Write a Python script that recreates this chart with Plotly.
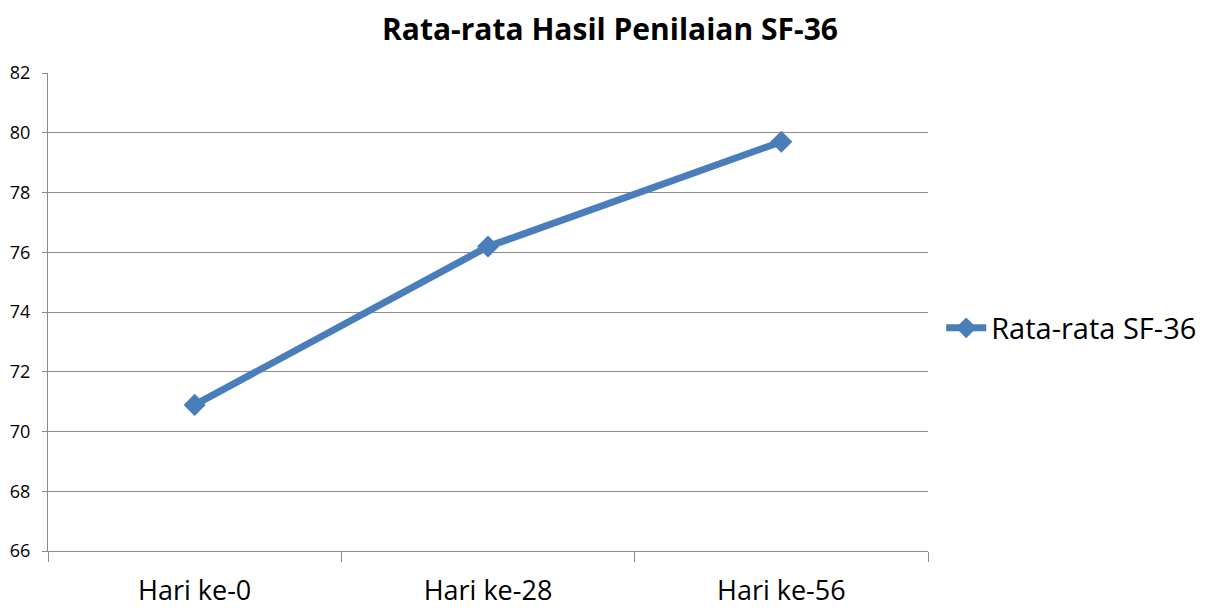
import plotly.graph_objects as go

categories = ["Hari ke-0", "Hari ke-28", "Hari ke-56"]
values = [70.89, 76.19, 79.70]
series_name = "Rata-rata SF-36"
title_text = "Rata-rata Hasil Penilaian SF-36"

fig = go.Figure()
fig.add_trace(go.Scatter(
    x=categories, y=values, mode="lines+markers", name=series_name,
    line=dict(color="#4A7EBB", width=7),
    marker=dict(symbol="diamond", size=17, color="#4A7EBB"),
))

fig.update_layout(
    width=1203, height=606,
    margin=dict(l=40, r=283, t=65, b=63, autoexpand=False),
    paper_bgcolor="white", plot_bgcolor="white",
    title=dict(text="<b>" + title_text + "</b>", x=0.5004, xanchor="center",
               y=0.9637, yanchor="middle",
               font=dict(family="Open Sans", size=30, color="black")),
    showlegend=True,
    legend=dict(x=1.015, xanchor="left", y=0.4665, yanchor="middle",
                font=dict(family="Open Sans", size=29, color="black"),
                itemwidth=40),
    font=dict(family="Open Sans", color="black"),
)
fig.update_xaxes(
    type="category", range=[-0.5, 2.5], tickson="boundaries",
    ticks="outside", ticklen=10, tickcolor="#8C8C8C",
    showgrid=False, showline=True, linecolor="#8C8C8C", linewidth=1,
    tickfont=dict(size=27, family="Open Sans"), zeroline=False,
    ticklabelstandoff=16,
)
fig.update_yaxes(
    range=[66, 82], dtick=2, ticks="outside", ticklen=5, tickcolor="#8C8C8C",
    showgrid=True, gridcolor="#8C8C8C", gridwidth=1,
    showline=True, linecolor="#8C8C8C", linewidth=1,
    tickfont=dict(size=18, family="Open Sans"), zeroline=False,
    ticklabelstandoff=8,
)

fig.write_html("out.html")
